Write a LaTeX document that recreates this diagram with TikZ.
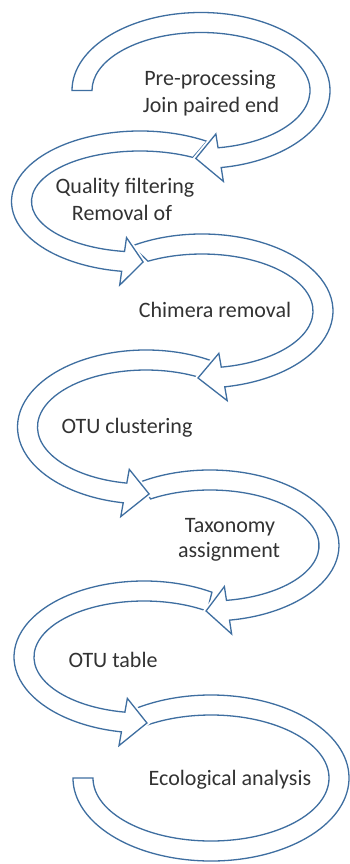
\documentclass[tikz,border=0pt]{standalone}
\usepackage{fontspec}
\setmainfont{Carlito}
\usetikzlibrary{calc}
\definecolor{pfeilblau}{RGB}{62,110,160}
\definecolor{textgrau}{RGB}{50,50,50}
\tikzset{
	pfeil/.style={draw=pfeilblau, line width=1.3pt, fill=white, line join=miter,
		preaction={draw=white, line width=5pt}},
	schritt/.style={anchor=base, inner sep=0pt, text=textgrau, font=\fontsize{22}{26}\selectfont}
}
\begin{document}
\begin{tikzpicture}[x=1pt, y=1pt]
		\useasboundingbox (0,0) rectangle (350,-864);
		
		% Letzter Bogen (ohne Spitze)
		\draw[pfeil] (211,-778) ++(124.9:138 and 83) arc[start angle=124.9, end angle=-180, x radius=138, y radius=83]
			-- ++(20,0) arc[start angle=-180, end angle=122.8, x radius=118, y radius=63] -- cycle;
		
		% Bögen mit Spitze, von unten nach oben
		\foreach \cx/\cy/\rx/\ry/\so/\si/\b/\t in {
			144/657/120/66/58.5/55/260/271.4,
			210/545.5/119/65.5/123.4/123/-81.3/-91.9,
			146/427/118.5/67/59.1/60.8/259.8/271.5,
			202/311/121/67/122.3/119.1/-80/-91.9,
			140/201.5/118.5/60.5/58.6/60.8/261.8/271.5,
			201/90.5/119/68/180/180/-81/-92.5}
		{
			\pgfmathsetmacro\rox{\rx+10} \pgfmathsetmacro\roy{\ry+10}
			\pgfmathsetmacro\rix{\rx-10} \pgfmathsetmacro\riy{\ry-10}
			\pgfmathsetmacro\rax{\rx+24} \pgfmathsetmacro\ray{\ry+24}
			\pgfmathsetmacro\rbx{\rx-24} \pgfmathsetmacro\rby{\ry-24}
			\draw[pfeil] (\cx,-\cy) ++(\so:{\rox} and {\roy})
				arc[start angle=\so, end angle=\b, x radius=\rox, y radius=\roy]
				-- ($(\cx,-\cy)+(\b:{\rax} and {\ray})$)
				-- ($(\cx,-\cy)+(\t:{\rx} and {\ry})$)
				-- ($(\cx,-\cy)+(\b:{\rbx} and {\rby})$)
				-- ($(\cx,-\cy)+(\b:{\rix} and {\riy})$)
				arc[start angle=\b, end angle=\si, x radius=\rix, y radius=\riy] -- cycle;
		}
		
		% Beschriftungen
		\node[schritt] (pre) at (210,-86) {Pre-processing};
		\node[schritt] (join) at (211,-113) {Join paired end};
		\node[schritt] (quality) at (125,-193) {Quality filtering};
		\node[schritt] (removal) at (122,-220) {Removal of};
		\node[schritt] (chimera) at (215,-317) {Chimera removal};
		\node[schritt] (clustering) at (127,-433) {OTU clustering};
		\node[schritt] (taxonomy) at (230,-532) {Taxonomy};
		\node[schritt] (assignment) at (229,-557) {assignment};
		\node[schritt] (table) at (113,-667) {OTU table};
		\node[schritt] (ecology) at (230,-785) {Ecological analysis};
	\end{tikzpicture}
\end{document}
